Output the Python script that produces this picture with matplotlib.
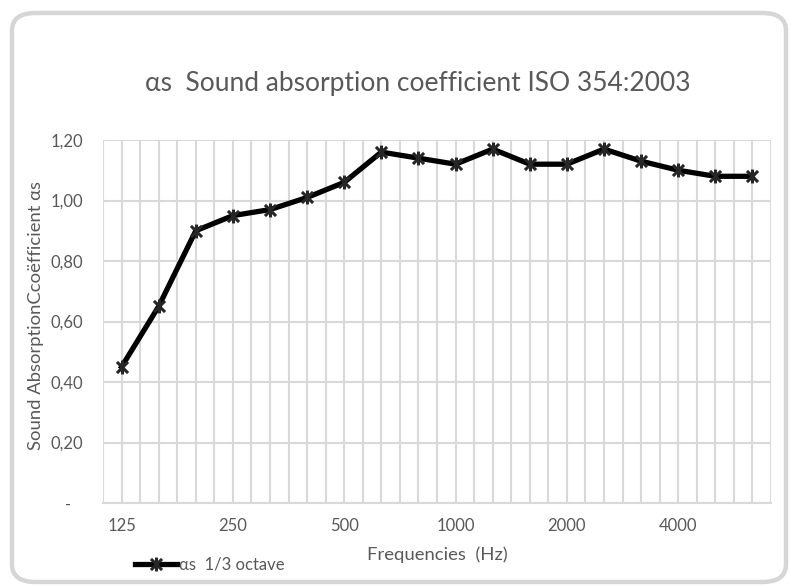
import numpy as np
import matplotlib
matplotlib.use("Agg")
import matplotlib.pyplot as plt
from matplotlib.path import Path
from matplotlib.patches import FancyBboxPatch
from matplotlib.ticker import FixedLocator

frequencies = ["125", "160", "200", "250", "315", "400", "500", "630", "800", "1000",
               "1250", "1600", "2000", "2500", "3150", "4000", "5000", "6300"]
alpha_s = [0.45, 0.65, 0.90, 0.95, 0.97, 1.01, 1.06, 1.16, 1.14, 1.12,
           1.17, 1.12, 1.12, 1.17, 1.13, 1.10, 1.08, 1.08]
y_ticks = [0.0, 0.2, 0.4, 0.6, 0.8, 1.0, 1.2]
y_tick_labels = ["-   ", "0,20", "0,40", "0,60", "0,80", "1,00", "1,20"]

plt.rcParams['font.family'] = ['Lato', 'DejaVu Sans']
txt = '#595959'
grid_c = '#d9d9d9'

W, H = 790, 586
fig = plt.figure(figsize=(W/100, H/100), dpi=100)

# rounded frame
frame = FancyBboxPatch((12/W, 4/H), (774/W), (569/H),
                       boxstyle="round,pad=0,rounding_size=0.03",
                       transform=fig.transFigure, facecolor='none',
                       edgecolor='#d6d6d6', linewidth=3.2, zorder=-5)
fig.patches.append(frame)

ax = fig.add_axes([103/W, 1-503/H, (771-103)/W, (503-140)/H])
ax.set_facecolor('none')
ax.set_zorder(2)

x = np.arange(len(frequencies))
star = Path([(-1, -1), (1, 1), (-1, 1), (1, -1), (0, -1.25), (0, 1.25)],
            [Path.MOVETO, Path.LINETO, Path.MOVETO, Path.LINETO, Path.MOVETO, Path.LINETO])
ax.plot(x, alpha_s, color='black', linewidth=3.8, marker=star, markersize=10,
        markeredgecolor='#262626', markeredgewidth=2.2, label='αs  1/3 octave',
        zorder=3, solid_joinstyle='round')

ax.set_xlim(-0.5, len(frequencies) - 0.5)
ax.set_ylim(0, 1.2)

major_idx = list(range(0, len(frequencies), 3))
ax.xaxis.remove_overlapping_locs = False
ax.set_xticks(major_idx)
ax.set_xticklabels([frequencies[i] for i in major_idx])
ax.xaxis.set_minor_locator(FixedLocator(np.arange(-0.5, len(frequencies), 0.5)))
ax.set_yticks(y_ticks)
ax.set_yticklabels(y_tick_labels)

ax.grid(which='minor', axis='x', color=grid_c, linewidth=1.5)
ax.grid(which='major', axis='y', color=grid_c, linewidth=1.5)
ax.tick_params(which='both', length=0)
ax.tick_params(axis='x', pad=11, labelsize=12, labelcolor=txt)
ax.tick_params(axis='y', pad=14, labelsize=12, labelcolor=txt)
for s in ['top', 'left', 'right']:
    ax.spines[s].set_visible(False)
ax.spines['bottom'].set_color(grid_c)
ax.spines['bottom'].set_linewidth(1.5)

ax.set_xlabel('Frequencies  (Hz)', fontsize=13.3, color=txt)
ax.xaxis.label.set_va('center')
ax.xaxis.set_label_coords((437-103)/668, (503-555)/363)
ax.set_ylabel('Sound AbsorptionCcoëfficient αs', fontsize=13.3, color=txt)
ax.yaxis.label.set_va('center')
ax.yaxis.set_label_coords((36-103)/668, (503-315)/363)

fig.text(418/W, 1-83/H, 'αs  Sound absorption coefficient ISO 354:2003',
         ha='center', va='center', fontsize=19, color=txt)

leg = ax.legend(loc='center left', bbox_to_anchor=(135/W, 1-565/H),
                bbox_transform=fig.transFigure, frameon=False, fontsize=12,
                handlelength=2.5, handletextpad=0.15, borderpad=0, borderaxespad=0)
for t in leg.get_texts():
    t.set_color(txt)

fig.savefig('out.png', dpi=100)
